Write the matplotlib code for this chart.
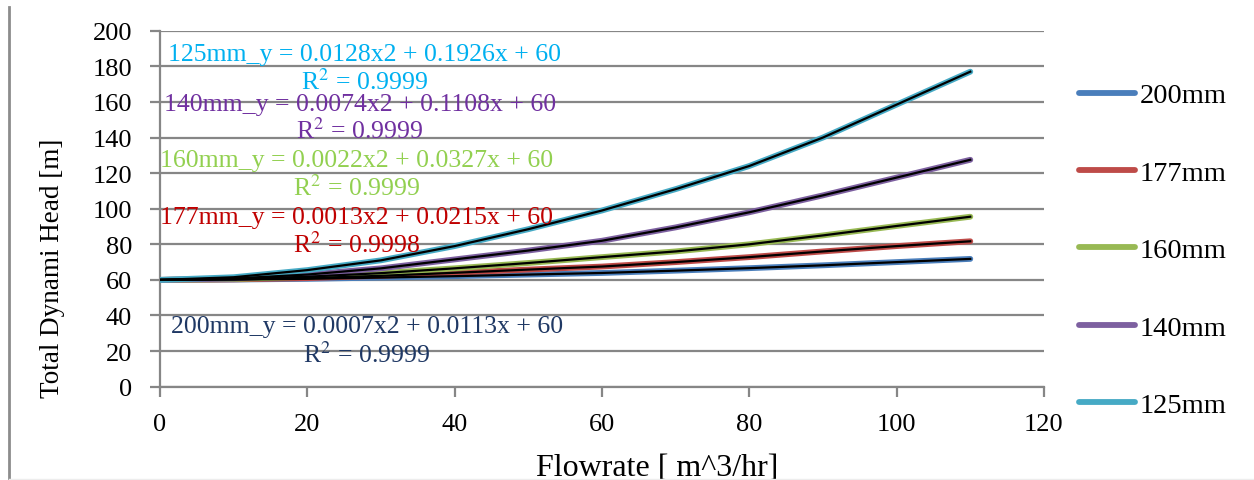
import numpy as np
import matplotlib
matplotlib.use("Agg")
import matplotlib.pyplot as plt
from matplotlib.lines import Line2D

plt.rcParams['font.family'] = ['Liberation Serif', 'DejaVu Serif']
plt.rcParams['mathtext.fontset'] = 'stix'

# débit (m^3/h) et hauteur manométrique totale (m) par diamètre de conduite
flowrate = [0, 10, 20, 30, 40, 50, 60, 70, 80, 90, 100, 110]
head_200 = [60, 60.2, 60.6, 61.3, 62.1, 63.0, 63.9, 65.2, 66.6, 68.2, 70.0, 71.8]
head_177 = [60, 60.3, 61.0, 62.3, 64.0, 65.8, 67.5, 70.0, 72.8, 76.0, 79.0, 81.7]
head_160 = [60, 60.5, 61.8, 63.8, 66.5, 69.5, 72.8, 76.0, 80.0, 85.0, 90.3, 95.5]
head_140 = [60, 60.8, 63.0, 66.5, 71.5, 76.5, 82.0, 89.5, 98.0, 107.5, 117.5, 127.5]
head_125 = [60, 61.5, 65.5, 71.0, 79.0, 88.5, 99.0, 111.0, 124.0, 140.0, 158.5, 177.0]

series_names = ["200mm", "177mm", "160mm", "140mm", "125mm"]
series_colors = ["#4A7EBB", "#BE4B48", "#98B954", "#7D60A0", "#46AAC5"]

# équations des courbes de tendance
eq_labels = ["200mm_y = 0.0007x2 + 0.0113x + 60",
             "177mm_y = 0.0013x2 + 0.0215x + 60",
             "160mm_y = 0.0022x2 + 0.0327x + 60",
             "140mm_y = 0.0074x2 + 0.1108x + 60",
             "125mm_y = 0.0128x2 + 0.1926x + 60"]
r2_labels = ["R$^2$ = 0.9999", "R$^2$ = 0.9998", "R$^2$ = 0.9999", "R$^2$ = 0.9999", "R$^2$ = 0.9999"]
eq_colors = ["#1F3864", "#C00000", "#92D050", "#7030A0", "#00B0F0"]
eq_pos = [(28.1, 34.2, 18.4), (26.7, 95.3, 80.2), (26.7, 127.4, 112.2),
          (27.1, 158.8, 144.2), (27.8, 186.9, 171.7)]

heads = [head_200, head_177, head_160, head_140, head_125]

fig = plt.figure(figsize=(12.54, 4.81), dpi=100)
ax = fig.add_axes([0.1276, 0.194, 0.7049, 0.740])

grid_col = "#868686"
for h, c in zip(heads, series_colors):
    ax.plot(flowrate, h, color=c, lw=4.2, solid_capstyle="round", zorder=3)
for h in heads:
    ax.plot(flowrate, h, color="black", lw=1.6, zorder=4)

ax.set_xlim(0, 120)
ax.set_ylim(0, 200)
ax.set_xticks(np.arange(0, 121, 20))
ax.set_yticks(np.arange(0, 201, 20))
ax.yaxis.grid(True, color=grid_col, lw=1.6)
ax.set_axisbelow(True)
for s in ["top", "right"]:
    ax.spines[s].set_visible(False)
for s in ["left", "bottom"]:
    ax.spines[s].set_color(grid_col)
    ax.spines[s].set_linewidth(1.6)
ax.tick_params(axis="both", colors=grid_col, width=1.6, length=7, labelcolor="black",
               labelsize=19)
ax.tick_params(axis="x", pad=12)
ax.tick_params(axis="y", pad=13)

ax.set_xlabel("Flowrate [ m^3/hr]", fontsize=23)
ax.xaxis.set_label_coords(0.563, -0.185)
ax.set_ylabel("Total Dynami Head [m]", fontsize=19.5)
ax.yaxis.set_label_coords(-0.108, 0.336)

for lab, r2, col, (x, y1, y2) in zip(eq_labels, r2_labels, eq_colors, eq_pos):
    ax.text(x, y1, lab, color=col, fontsize=18.5, ha="center", va="center", zorder=5)
    ax.text(x, y2, r2, color=col, fontsize=18.5, ha="center", va="center", zorder=5)

handles = [Line2D([], [], color=c, lw=4.2, solid_capstyle="round") for c in series_colors]
fig.legend(handles, series_names, loc="upper left", bbox_to_anchor=(0.851, 0.85),
           frameon=False, fontsize=20.5, handlelength=2.0, handletextpad=0.15,
           labelspacing=1.81, borderaxespad=0)

# bordure de la zone du graphique
fig.add_artist(Line2D([8.5 / 1254, 8.5 / 1254], [0, 1 - 8 / 481],
                      transform=fig.transFigure, color="#8C8C8C", lw=2))
fig.add_artist(Line2D([8.5 / 1254, 1], [1.5 / 481, 1.5 / 481],
                      transform=fig.transFigure, color="#EDEDED", lw=1))

fig.savefig("out.png", dpi=100)
